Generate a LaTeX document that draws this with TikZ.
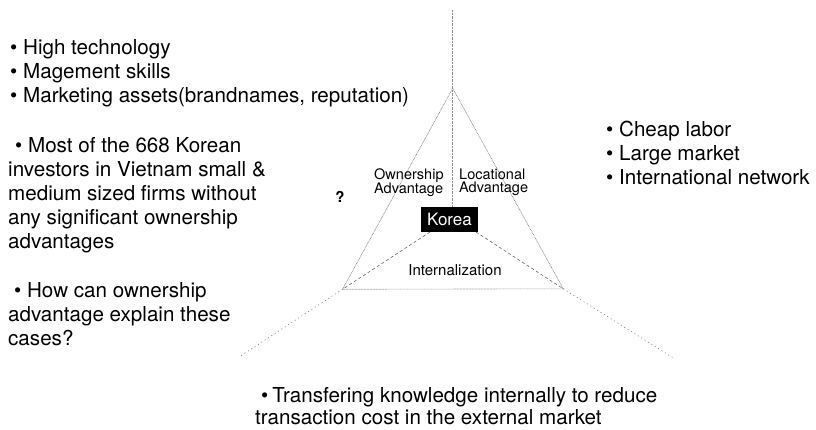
\documentclass[tikz,border=0pt]{standalone}
\usepackage{fontspec}
\setmainfont{TeX Gyre Heros}
\begin{document}
\begin{tikzpicture}[x=1pt,y=-1pt,
  bigtext/.style={anchor=north west, inner sep=0pt, align=left, font=\fontsize{20.6}{24}\selectfont},
  lowtext/.style={anchor=north west, inner sep=0pt, align=left, font=\fontsize{20.6}{22}\selectfont},
  smalltext/.style={anchor=north west, inner sep=0pt, align=left, font=\fontsize{14.5}{13.6}\selectfont},
  edgeline/.style={draw=black!50, line width=0.6pt, dash pattern=on 0.8pt off 0.7pt},
  korealine/.style={draw=black!60, line width=0.6pt, dash pattern=on 3pt off 2.5pt},
  outerline/.style={draw=black!55, line width=0.6pt, dash pattern=on 1pt off 3pt},
  axisline/.style={draw=black!45, line width=0.7pt, dash pattern=on 0.8pt off 0.6pt}]
\useasboundingbox (0,0) rectangle (816,430);

% text blocks
\node[bigtext] (own) at (10,39) {\rule{0pt}{15pt}• High technology\\• Magement skills\\• Marketing assets(brandnames, reputation)};
\node[bigtext] (most) at (8,137) {\rule{0pt}{15pt}\hspace*{7pt}• Most of the 668 Korean\\investors in Vietnam small \&\\medium sized firms without\\any significant ownership\\advantages};
\node[bigtext] (how) at (8,282) {\rule{0pt}{15pt}\hspace*{6pt}• How can ownership\\advantage explain these\\cases?};
\node[bigtext] (loc) at (606,121) {\rule{0pt}{15pt}• Cheap labor\\• Large market\\• International network};
\node[lowtext] (intl) at (255,387) {\rule{0pt}{15pt}\hspace*{6pt}•\hspace{4pt}Transfering knowledge internally to reduce\\transaction cost in the external market};

% geometry
\coordinate (top) at (452.7,10);
\coordinate (apex) at (452.7,88.3);
\coordinate (lv) at (342.5,289.3);
\coordinate (rv) at (563.3,288.8);
\coordinate (lo) at (239,357);
\coordinate (ro) at (675,359);

\node[fill=black, text=white, inner sep=0pt, minimum width=57pt, minimum height=25pt,
      font=\fontsize{17}{17}\selectfont] (korea) at (449.5,219.5) {Korea};
\coordinate (kl) at (430,232);
\coordinate (kr) at (476,232);

\draw[axisline] (top) -- (top |- korea.north);
\draw[edgeline] (apex) -- (lv) -- (rv) -- cycle;
\draw[korealine] (kl) -- (lv);
\draw[korealine] (kr) -- (rv);
\draw[outerline] (lv) -- (lo);
\draw[outerline] (rv) -- (ro);

% labels in triangle
\node[smalltext] (ownlab) at (374,168) {\rule{0pt}{11pt}Ownership\\Advantage};
\node[smalltext] (loclab) at (459,168) {\rule{0pt}{11pt}Locational\\Advantage};
\node[anchor=base, inner sep=0pt, font=\fontsize{15}{15}\selectfont] (intlab) at (455,276) {Internalization};
\node[inner sep=0pt, font=\fontsize{15}{15}\selectfont\bfseries] (q) at (340,197) {?};
\end{tikzpicture}
\end{document}
